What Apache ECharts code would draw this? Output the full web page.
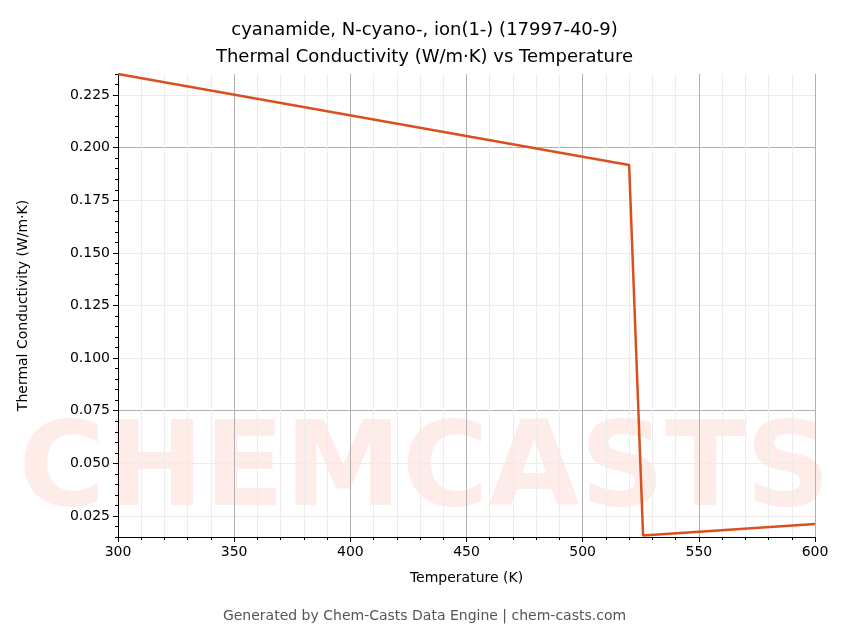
<!DOCTYPE html>
<html>
<head>
<meta charset="utf-8">
<script src="https://cdn.jsdelivr.net/npm/echarts@6/dist/echarts.min.js"></script>
<style>html,body{margin:0;background:#fff}#chart{width:849px;height:644px}</style>
</head>
<body>
<div id="chart"></div>
<script>
// temperature (K) and thermal conductivity (W/m·K)
const temperature = [300, 520, 526, 600];
const conductivity = [0.235, 0.1918, 0.0157, 0.0212];
const yTicks = [0.025, 0.05, 0.075, 0.1, 0.125, 0.15, 0.175, 0.2, 0.225];
const titleLines = ['cyanamide, N-cyano-, ion(1-) (17997-40-9)', 'Thermal Conductivity (W/m·K) vs Temperature'];

const chart = echarts.init(document.getElementById('chart'));
const font = 'DejaVu Sans';
const minorC = '#ececec', majorC = '#b0b0b0';
chart.setOption({
  animation: false,
  textStyle: { fontFamily: font },
  title: {
    text: titleLines.join('\n'), left: 'center', top: 12,
    textStyle: { fontFamily: font, fontSize: 18, fontWeight: 'normal', color: '#000', lineHeight: 27 }
  },
  graphic: [
    { type: 'text', left: 'center', top: 415, z: 0,
      style: { text: 'CHEMCASTS', font: 'bold 118px DejaVu Sans', fill: 'rgba(250,130,110,0.15)' } },
    { type: 'text', left: 'center', top: 609,
      style: { text: 'Generated by Chem-Casts Data Engine | chem-casts.com', font: '14px DejaVu Sans', fill: '#555' } }
  ],
  grid: { left: 118, right: 34, top: 74, bottom: 107 },
  xAxis: {
    type: 'value', min: 300, max: 600, interval: 50,
    name: 'Temperature (K)', nameLocation: 'middle', nameGap: 34,
    nameTextStyle: { fontSize: 14, color: '#000' },
    axisLine: { onZero: false, lineStyle: { color: '#000' } },
    axisTick: { length: 5, lineStyle: { color: '#000' } },
    axisLabel: { color: '#000', fontSize: 14 },
    minorTick: { show: true, splitNumber: 5, length: 3, lineStyle: { color: '#000' } },
    splitLine: { lineStyle: { color: majorC } },
    minorSplitLine: { show: true, lineStyle: { color: minorC } }
  },
  yAxis: [{
    type: 'value', min: 0.015, max: 0.235, interval: 0.005,
    name: 'Thermal Conductivity (W/m·K)', nameLocation: 'middle', nameGap: 88,
    nameTextStyle: { fontSize: 14, color: '#000' },
    axisLine: { show: true, lineStyle: { color: '#000' } },
    axisTick: { show: true, length: 5, customValues: yTicks, lineStyle: { color: '#000' } },
    axisLabel: { color: '#000', fontSize: 14, customValues: yTicks, formatter: v => v.toFixed(3) },
    splitLine: { lineStyle: { color: [minorC, minorC, majorC, minorC, minorC] } }
  }, {
    type: 'value', min: 0.015, max: 0.235, interval: 0.005, position: 'left',
    axisLine: { show: false }, axisLabel: { show: false }, splitLine: { show: false },
    axisTick: { show: true, length: 3, lineStyle: { color: '#000' } }
  }],
  series: [{
    type: 'line', showSymbol: false, z: 5,
    data: temperature.map((t, i) => [t, conductivity[i]]),
    lineStyle: { color: '#d9501e', width: 2.5 }
  }]
});
</script>
</body>
</html>
